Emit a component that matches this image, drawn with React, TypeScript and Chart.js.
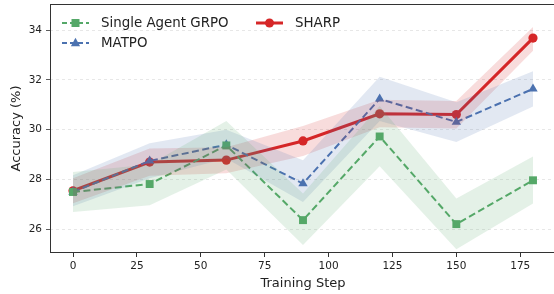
import React, { useEffect, useRef } from "react";
import { Chart, registerables } from "chart.js";

Chart.register(...registerables);

const steps = [0, 30, 60, 90, 120, 150, 180];

const grpoMean = [27.5, 27.82, 29.37, 26.37, 29.73, 26.21, 27.97];
const grpoLow = [26.7, 26.97, 28.4, 25.37, 28.53, 25.2, 27.04];
const grpoHigh = [28.3, 28.6, 30.35, 27.44, 30.95, 27.24, 28.93];

const matpoMean = [27.5, 28.75, 29.4, 27.84, 31.24, 30.31, 31.64];
const matpoLow = [26.93, 28.05, 28.85, 27.1, 30.35, 29.51, 30.93];
const matpoHigh = [28.17, 29.46, 30.0, 28.77, 32.13, 31.1, 32.35];

const sharpMean = [27.55, 28.7, 28.78, 29.55, 30.64, 30.61, 33.68];
const sharpLow = [27.05, 28.15, 28.25, 28.95, 30.1, 30.05, 33.17];
const sharpHigh = [28.05, 29.25, 29.3, 30.15, 31.2, 31.15, 34.13];

const xTicks = [0, 25, 50, 75, 100, 125, 150, 175];
const yTicks = [26, 28, 30, 32, 34];

const GREEN = "#55a868";
const BLUE = "#4c72b0";
const RED = "#d62728";
const FONT = "'DejaVu Sans', sans-serif";

const pts = (ys: number[]) => steps.map((x, i) => ({ x, y: ys[i] }));

function hexA(hex: string, a: number) {
  const r = parseInt(hex.slice(1, 3), 16);
  const g = parseInt(hex.slice(3, 5), 16);
  const b = parseInt(hex.slice(5, 7), 16);
  return `rgba(${r},${g},${b},${a})`;
}

function band(low: number[], high: number[], color: string, alpha: number) {
  return [
    {
      label: "_low",
      data: pts(low),
      borderWidth: 0,
      pointRadius: 0,
      fill: false,
      borderColor: "transparent",
      backgroundColor: "transparent",
    },
    {
      label: "_high",
      data: pts(high),
      borderWidth: 0,
      pointRadius: 0,
      fill: "-1",
      borderColor: "transparent",
      backgroundColor: hexA(color, alpha),
    },
  ];
}

const legendItems = [
  { label: "Single Agent GRPO", color: GREEN, dash: [5, 3], marker: "rect", col: 0, row: 0 },
  { label: "MATPO", color: BLUE, dash: [5, 3], marker: "triangle", col: 0, row: 1 },
  { label: "SHARP", color: RED, dash: [], marker: "circle", col: 1, row: 0 },
];

function drawMarker(ctx: CanvasRenderingContext2D, kind: string, x: number, y: number, color: string) {
  ctx.save();
  ctx.fillStyle = color;
  ctx.beginPath();
  if (kind === "rect") {
    ctx.rect(x - 4, y - 4, 8, 8);
  } else if (kind === "triangle") {
    ctx.moveTo(x, y - 5.2);
    ctx.lineTo(x + 4.6, y + 3.2);
    ctx.lineTo(x - 4.6, y + 3.2);
    ctx.closePath();
  } else {
    ctx.arc(x, y, 4.5, 0, Math.PI * 2);
  }
  ctx.fill();
  ctx.restore();
}

const framePlugin = {
  id: "frameAndLegend",
  afterDraw(chart: any) {
    const { ctx, chartArea } = chart;
    ctx.save();
    ctx.strokeStyle = "#333";
    ctx.lineWidth = 1;
    ctx.strokeRect(chartArea.left + 0.5, chartArea.top + 0.5, chartArea.right - chartArea.left - 1, chartArea.bottom - chartArea.top - 1);

    const x0 = chartArea.left + 12;
    const y0 = chartArea.top + 19;
    legendItems.forEach((it) => {
      const lx = x0 + it.col * 194;
      const ly = y0 + it.row * 20;
      ctx.save();
      ctx.strokeStyle = it.color;
      ctx.lineWidth = it.marker === "circle" ? 3 : 2;
      ctx.setLineDash(it.dash);
      ctx.beginPath();
      ctx.moveTo(lx, ly);
      ctx.lineTo(lx + 27, ly);
      ctx.stroke();
      ctx.restore();
      drawMarker(ctx, it.marker, lx + 13.5, ly, it.color);
      ctx.fillStyle = "#222";
      ctx.font = `13.4px ${FONT}`;
      ctx.textBaseline = "middle";
      ctx.textAlign = "left";
      ctx.fillText(it.label, lx + 39, ly + 0.5);
    });
    ctx.restore();
  },
};

export default function App() {
  const ref = useRef<HTMLCanvasElement | null>(null);

  useEffect(() => {
    document.body.style.margin = "0";
    const canvas = ref.current;
    if (!canvas) return;
    const chart = new Chart(canvas, {
      type: "line",
      data: {
        datasets: [
          ...band(grpoLow, grpoHigh, GREEN, 0.16),
          ...band(matpoLow, matpoHigh, BLUE, 0.16),
          ...band(sharpLow, sharpHigh, RED, 0.16),
          {
            label: "Single Agent GRPO",
            data: pts(grpoMean),
            borderColor: GREEN,
            backgroundColor: GREEN,
            borderWidth: 2,
            borderDash: [7, 3.5],
            pointStyle: "rect",
            pointRadius: 5.6,
            pointBorderWidth: 0,
            fill: false,
          },
          {
            label: "MATPO",
            data: pts(matpoMean),
            borderColor: BLUE,
            backgroundColor: BLUE,
            borderWidth: 2,
            borderDash: [7, 3.5],
            pointStyle: "triangle",
            pointRadius: 5.4,
            pointBorderWidth: 0,
            fill: false,
          },
          {
            label: "SHARP",
            data: pts(sharpMean),
            borderColor: RED,
            backgroundColor: RED,
            borderWidth: 3,
            pointStyle: "circle",
            pointRadius: 4.6,
            pointBorderWidth: 0,
            fill: false,
          },
        ],
      },
      options: {
        animation: false,
        responsive: false,
        layout: { autoPadding: false, padding: { top: 4, right: 0, left: 0, bottom: 0 } },
        plugins: {
          legend: { display: false },
          tooltip: { enabled: false },
        },
        elements: { line: { tension: 0 } },
        scales: {
          x: {
            type: "linear",
            min: -9,
            max: 189,
            afterBuildTicks: (s: any) => {
              s.ticks = xTicks.map((v) => ({ value: v }));
            },
            afterFit: (s: any) => {
              s.height = 41;
              s.paddingLeft = 0;
              s.paddingRight = 0;
              s.paddingTop = 0;
              s.paddingBottom = 0;
            },
            grid: {
              color: "rgba(0,0,0,0)",
              tickColor: "#333",
              tickLength: 4,
              drawTicks: true,
            },
            border: { display: false },
            ticks: {
              color: "#222",
              font: { family: FONT, size: 10.5 },
              padding: 3,
              maxRotation: 0,
            },
            title: {
              display: true,
              text: "Training Step",
              color: "#222",
              font: { family: FONT, size: 13 },
              padding: { top: 2, bottom: 2.2 },
            },
          },
          y: {
            type: "linear",
            min: 25.05,
            max: 35.05,
            afterBuildTicks: (s: any) => {
              s.ticks = yTicks.map((v) => ({ value: v }));
            },
            afterFit: (s: any) => {
              s.width = 50;
              s.paddingLeft = 0;
              s.paddingRight = 0;
              s.paddingTop = 0;
              s.paddingBottom = 0;
            },
            grid: {
              color: "rgba(0,0,0,0.12)",
              lineWidth: 0.8,
              tickColor: "#333",
              tickLength: 4,
              tickBorderDash: [],
              drawTicks: true,
            },
            border: { display: false, dash: [3, 3] },
            ticks: {
              color: "#222",
              font: { family: FONT, size: 10.5 },
              padding: 4,
            },
            title: {
              display: true,
              text: "Accuracy (%)",
              color: "#222",
              font: { family: FONT, size: 13 },
              padding: { top: 9, bottom: 0 },
            },
          },
        },
      },
      plugins: [framePlugin],
    } as any);
    return () => chart.destroy();
  }, []);

  return (
    <div style={{ width: 554, height: 294, overflow: "hidden" }}>
      <canvas ref={ref} width={556} height={294} style={{ display: "block" }} />
    </div>
  );
}
